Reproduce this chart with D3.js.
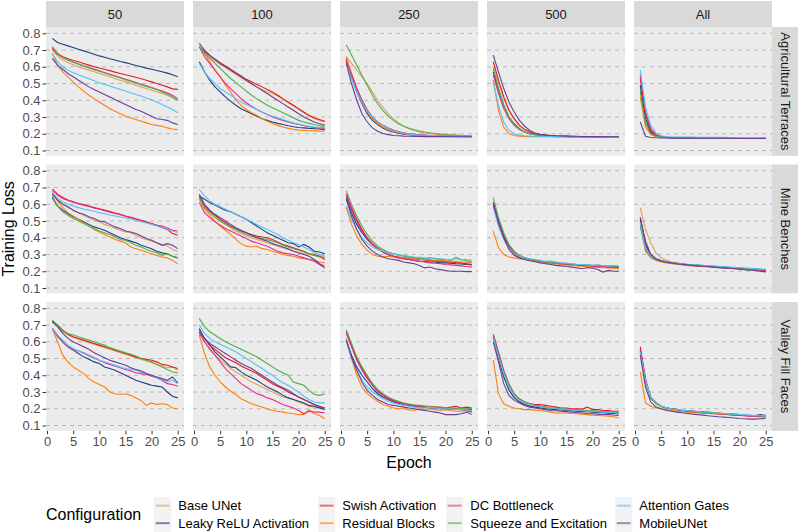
<!DOCTYPE html>
<html>
<head>
<meta charset="utf-8">
<script src="https://cdn.jsdelivr.net/npm/d3@7"></script>
<style>
  body { margin: 0; background: #fff; }
  svg { display: block; font-family: "Liberation Sans", Arial, sans-serif; }
</style>
</head>
<body>
<div id="chart"></div>
<script>
// data
const epochs = [1,2,3,4,5,6,7,8,9,10,11,12,13,14,15,16,17,18,19,20,21,22,23,24,25];
const configs = ["Base UNet", "Leaky ReLU Activation", "Swish Activation", "Residual Blocks",
                 "DC Bottleneck", "Squeeze and Excitation", "Attention Gates", "MobileUNet"];
const sizes = ["50", "100", "250", "500", "All"];
const features = ["Agricultural Terraces", "Mine Benches", "Valley Fill Faces"];
const yTicks = [0.1, 0.2, 0.3, 0.4, 0.5, 0.6, 0.7, 0.8];
const xTicks = [0, 5, 10, 15, 20, 25];

// one array per panel, series in the order of configs
const lossAT50 = [
  [.70,.665,.64,.625,.612,.60,.59,.58,.57,.56,.55,.54,.53,.52,.51,.50,.49,.48,.47,.46,.45,.44,.43,.415,.40],
  [.77,.745,.735,.725,.715,.705,.695,.685,.675,.665,.657,.648,.64,.632,.625,.617,.608,.60,.592,.585,.578,.57,.562,.553,.54],
  [.71,.68,.66,.648,.638,.63,.62,.61,.60,.593,.585,.577,.568,.56,.552,.545,.537,.528,.52,.51,.50,.49,.48,.468,.465],
  [.68,.61,.57,.54,.51,.48,.455,.43,.41,.39,.37,.35,.335,.32,.305,.295,.285,.275,.265,.255,.25,.245,.235,.228,.225],
  [.71,.675,.655,.64,.628,.617,.606,.596,.586,.576,.566,.556,.546,.536,.526,.516,.506,.496,.486,.476,.466,.455,.443,.43,.41],
  [.72,.68,.655,.64,.627,.615,.604,.593,.583,.573,.563,.553,.543,.533,.523,.513,.503,.493,.483,.473,.463,.45,.437,.42,.40],
  [.68,.63,.60,.58,.565,.552,.54,.528,.516,.505,.495,.485,.475,.465,.455,.445,.435,.425,.414,.403,.39,.375,.36,.345,.325],
  [.65,.61,.585,.56,.54,.52,.50,.48,.465,.45,.435,.42,.405,.39,.375,.36,.345,.335,.32,.305,.29,.285,.28,.265,.255]
];
const lossAT100 = [
  [.72,.68,.655,.635,.615,.595,.575,.555,.535,.515,.495,.48,.465,.45,.44,.425,.405,.385,.365,.345,.325,.305,.29,.28,.27],
  [.63,.57,.52,.48,.45,.42,.395,.37,.35,.335,.32,.305,.29,.28,.27,.262,.255,.248,.242,.237,.235,.232,.23,.228,.225],
  [.72,.69,.665,.645,.625,.605,.585,.565,.545,.525,.51,.495,.48,.465,.45,.43,.41,.39,.37,.35,.33,.31,.295,.285,.275],
  [.72,.68,.63,.58,.54,.49,.45,.40,.37,.345,.325,.31,.29,.275,.262,.25,.24,.232,.226,.222,.22,.218,.217,.216,.215],
  [.72,.66,.62,.58,.54,.50,.47,.44,.41,.385,.365,.345,.33,.315,.30,.29,.28,.27,.262,.255,.248,.242,.238,.235,.232],
  [.72,.68,.65,.62,.59,.56,.53,.505,.48,.455,.43,.41,.39,.37,.355,.34,.325,.31,.295,.28,.27,.262,.255,.248,.24],
  [.62,.57,.53,.50,.47,.45,.43,.41,.39,.375,.36,.345,.33,.315,.305,.295,.285,.275,.265,.258,.25,.245,.24,.237,.235],
  [.74,.70,.67,.645,.62,.60,.58,.56,.54,.52,.50,.48,.46,.44,.42,.40,.38,.36,.34,.32,.30,.285,.27,.26,.25]
];
const lossAT250 = [
  [.66,.62,.58,.54,.50,.45,.40,.36,.32,.29,.265,.245,.23,.22,.21,.205,.2,.197,.195,.193,.191,.19,.189,.188,.187],
  [.64,.54,.45,.38,.32,.28,.255,.235,.22,.21,.203,.198,.195,.192,.19,.189,.188,.187,.186,.186,.185,.185,.184,.184,.184],
  [.65,.56,.47,.40,.34,.30,.27,.25,.235,.22,.212,.205,.2,.197,.194,.192,.19,.189,.188,.187,.186,.185,.185,.184,.184],
  [.66,.55,.46,.39,.33,.29,.26,.24,.225,.215,.207,.2,.196,.193,.19,.188,.186,.185,.184,.183,.182,.182,.181,.181,.18],
  [.63,.55,.47,.40,.345,.30,.27,.25,.235,.222,.212,.205,.2,.196,.193,.19,.189,.188,.187,.186,.186,.185,.185,.184,.184],
  [.73,.67,.61,.55,.49,.43,.38,.34,.305,.28,.26,.245,.233,.224,.217,.211,.206,.202,.199,.196,.194,.192,.19,.189,.188],
  [.62,.53,.45,.39,.34,.30,.27,.25,.233,.22,.21,.203,.198,.195,.193,.191,.19,.189,.188,.188,.187,.187,.186,.186,.186],
  [.62,.50,.40,.32,.27,.235,.215,.202,.195,.19,.188,.186,.185,.184,.184,.183,.183,.183,.183,.182,.182,.182,.182,.182,.182]
];
const lossAT500 = [
  [.60,.50,.41,.34,.29,.25,.225,.21,.2,.195,.192,.19,.188,.187,.186,.185,.184,.184,.183,.183,.182,.182,.182,.182,.181],
  [.57,.46,.37,.30,.26,.23,.21,.2,.194,.19,.188,.186,.185,.184,.184,.183,.183,.183,.182,.182,.182,.182,.182,.181,.181],
  [.63,.52,.42,.34,.29,.25,.225,.21,.2,.195,.192,.19,.188,.187,.186,.185,.184,.184,.183,.183,.182,.182,.182,.182,.181],
  [.52,.34,.24,.2,.19,.186,.184,.183,.183,.182,.182,.182,.181,.181,.181,.181,.18,.18,.18,.18,.18,.18,.18,.18,.18],
  [.55,.44,.35,.29,.25,.225,.21,.2,.194,.19,.188,.186,.185,.184,.184,.183,.183,.183,.182,.182,.182,.182,.182,.181,.181],
  [.59,.47,.37,.30,.255,.23,.21,.2,.195,.19,.188,.186,.185,.184,.184,.183,.183,.183,.182,.182,.182,.182,.182,.181,.181],
  [.51,.37,.27,.22,.2,.192,.188,.186,.185,.184,.184,.183,.183,.183,.182,.182,.182,.182,.182,.181,.181,.181,.181,.181,.181],
  [.67,.57,.47,.39,.33,.28,.245,.22,.205,.197,.192,.19,.188,.187,.186,.185,.185,.184,.184,.183,.183,.183,.182,.182,.182]
];
const lossATAll = [
  [.47,.27,.20,.185,.18,.178,.177,.177,.176,.176,.176,.176,.176,.175,.175,.175,.175,.175,.175,.175,.175,.175,.175,.175,.175],
  [.49,.29,.21,.19,.182,.179,.178,.177,.177,.176,.176,.176,.176,.176,.175,.175,.175,.175,.175,.175,.175,.175,.175,.175,.175],
  [.53,.32,.22,.19,.182,.179,.178,.177,.177,.176,.176,.176,.176,.176,.176,.175,.175,.175,.175,.175,.175,.175,.175,.175,.175],
  [.42,.24,.195,.183,.179,.177,.176,.176,.175,.175,.175,.175,.175,.175,.175,.175,.175,.174,.174,.174,.174,.174,.174,.174,.174],
  [.55,.33,.23,.195,.184,.18,.178,.177,.177,.176,.176,.176,.176,.176,.176,.175,.175,.175,.175,.175,.175,.175,.175,.175,.175],
  [.45,.26,.20,.186,.18,.178,.177,.176,.176,.176,.176,.175,.175,.175,.175,.175,.175,.175,.175,.175,.175,.175,.175,.175,.175],
  [.58,.36,.25,.205,.188,.183,.181,.18,.18,.18,.18,.179,.179,.179,.179,.179,.179,.178,.178,.178,.178,.178,.178,.178,.178],
  [.27,.185,.178,.176,.175,.175,.174,.174,.174,.174,.174,.173,.173,.173,.173,.173,.173,.173,.173,.172,.172,.172,.172,.172,.172]
];
const lossMB50 = [
  [.67,.63,.60,.58,.565,.55,.535,.52,.505,.495,.48,.47,.455,.445,.435,.43,.415,.40,.39,.38,.37,.36,.35,.33,.32],
  [.64,.59,.565,.545,.525,.51,.495,.48,.465,.455,.445,.43,.415,.40,.39,.38,.37,.355,.345,.335,.32,.31,.305,.29,.28],
  [.69,.66,.64,.625,.615,.605,.598,.59,.58,.573,.565,.556,.548,.54,.53,.522,.513,.505,.495,.485,.475,.462,.45,.425,.415],
  [.68,.62,.58,.55,.53,.51,.49,.47,.45,.435,.42,.405,.39,.38,.37,.345,.335,.325,.315,.305,.295,.285,.28,.265,.245],
  [.69,.655,.635,.622,.612,.603,.595,.587,.578,.57,.562,.553,.545,.537,.528,.52,.512,.502,.492,.483,.475,.47,.458,.445,.44],
  [.65,.59,.555,.535,.515,.50,.485,.47,.455,.44,.43,.42,.405,.39,.385,.37,.355,.345,.33,.32,.31,.295,.305,.29,.28],
  [.67,.635,.615,.60,.59,.58,.572,.565,.558,.55,.543,.536,.53,.524,.518,.512,.504,.496,.488,.48,.47,.46,.452,.44,.432],
  [.66,.625,.60,.585,.565,.55,.54,.525,.515,.50,.495,.48,.465,.455,.44,.435,.425,.41,.395,.385,.37,.355,.365,.355,.335]
];
const lossMB100 = [
  [.64,.58,.55,.52,.50,.48,.46,.44,.425,.41,.40,.39,.38,.37,.36,.35,.34,.33,.32,.31,.305,.30,.295,.29,.285],
  [.65,.63,.61,.595,.58,.565,.555,.54,.525,.51,.49,.47,.45,.43,.415,.40,.385,.37,.365,.345,.36,.345,.32,.315,.305],
  [.65,.59,.56,.535,.51,.49,.47,.455,.44,.43,.42,.41,.405,.40,.39,.375,.36,.35,.34,.33,.32,.305,.30,.29,.27],
  [.63,.57,.535,.50,.47,.445,.42,.39,.365,.35,.345,.35,.335,.33,.32,.31,.30,.295,.29,.28,.275,.27,.265,.255,.25],
  [.61,.55,.52,.495,.475,.455,.44,.425,.41,.395,.38,.37,.36,.35,.335,.32,.31,.305,.30,.29,.28,.27,.26,.24,.22],
  [.64,.58,.55,.525,.50,.48,.465,.45,.435,.42,.41,.40,.395,.39,.38,.37,.355,.345,.335,.325,.315,.305,.295,.285,.28],
  [.69,.65,.62,.60,.585,.57,.555,.54,.525,.51,.495,.48,.465,.45,.435,.42,.40,.385,.37,.36,.345,.33,.31,.30,.29],
  [.66,.60,.565,.54,.52,.50,.48,.46,.445,.43,.415,.40,.39,.38,.365,.355,.345,.335,.32,.31,.30,.29,.27,.245,.23]
];
const lossMB250 = [
  [.65,.57,.50,.44,.40,.37,.345,.325,.31,.30,.295,.29,.285,.28,.275,.27,.265,.26,.255,.255,.25,.25,.245,.245,.24],
  [.64,.55,.48,.43,.39,.36,.335,.315,.30,.29,.28,.275,.27,.265,.26,.258,.255,.255,.25,.25,.248,.245,.243,.24,.238],
  [.66,.58,.51,.45,.40,.36,.335,.315,.30,.29,.285,.28,.278,.275,.27,.268,.265,.262,.26,.258,.255,.252,.25,.245,.24],
  [.58,.48,.41,.36,.325,.30,.29,.285,.29,.285,.283,.28,.28,.275,.273,.27,.268,.265,.265,.262,.26,.258,.255,.252,.25],
  [.66,.57,.50,.44,.40,.36,.335,.315,.30,.29,.28,.275,.27,.265,.26,.255,.25,.248,.245,.24,.238,.235,.232,.228,.225],
  [.68,.60,.53,.47,.42,.38,.35,.33,.315,.305,.30,.29,.285,.28,.28,.275,.28,.275,.27,.27,.265,.283,.27,.262,.255],
  [.59,.51,.45,.40,.37,.345,.33,.32,.31,.303,.298,.295,.29,.285,.283,.28,.278,.278,.275,.272,.27,.275,.268,.27,.265],
  [.63,.53,.45,.39,.35,.32,.30,.285,.275,.27,.265,.255,.25,.245,.235,.22,.225,.215,.21,.205,.20,.20,.20,.198,.198]
];
const lossMB500 = [
  [.60,.49,.40,.34,.30,.285,.275,.27,.265,.26,.255,.25,.248,.245,.242,.24,.238,.235,.232,.23,.24,.228,.225,.23,.225],
  [.61,.50,.41,.35,.31,.29,.28,.27,.265,.258,.253,.25,.246,.244,.24,.238,.236,.234,.232,.23,.228,.226,.225,.232,.228],
  [.60,.50,.41,.35,.31,.29,.28,.272,.266,.26,.255,.252,.248,.245,.248,.242,.24,.236,.235,.232,.23,.228,.226,.224,.222],
  [.44,.34,.30,.285,.28,.275,.27,.265,.26,.255,.25,.247,.244,.24,.237,.235,.232,.23,.228,.225,.223,.222,.22,.218,.216],
  [.59,.48,.40,.34,.305,.29,.28,.272,.266,.26,.256,.252,.25,.247,.244,.242,.24,.238,.235,.233,.23,.228,.226,.225,.222],
  [.64,.52,.43,.36,.32,.295,.28,.272,.266,.26,.256,.252,.25,.248,.245,.243,.24,.24,.238,.236,.235,.233,.232,.23,.23],
  [.58,.47,.39,.34,.305,.29,.28,.275,.27,.265,.26,.262,.255,.25,.248,.245,.242,.24,.238,.235,.238,.233,.232,.235,.23],
  [.61,.49,.40,.33,.295,.28,.27,.263,.257,.25,.245,.24,.235,.232,.228,.225,.22,.215,.222,.218,.21,.195,.205,.20,.20]
];
const lossMBAll = [
  [.58,.45,.37,.31,.28,.265,.255,.25,.245,.242,.24,.237,.235,.232,.23,.228,.225,.222,.22,.218,.215,.215,.212,.21,.208],
  [.52,.36,.29,.27,.26,.255,.25,.246,.242,.24,.237,.234,.232,.23,.227,.225,.222,.22,.218,.215,.213,.212,.21,.207,.205],
  [.51,.38,.30,.275,.262,.255,.25,.246,.243,.24,.237,.235,.232,.23,.228,.226,.224,.222,.22,.218,.216,.214,.212,.21,.21],
  [.48,.32,.28,.265,.255,.25,.245,.242,.238,.235,.232,.23,.228,.226,.224,.222,.22,.218,.215,.212,.21,.207,.205,.20,.195],
  [.50,.35,.29,.27,.26,.253,.248,.244,.24,.237,.234,.232,.23,.228,.226,.224,.222,.22,.218,.216,.214,.212,.21,.208,.205],
  [.47,.33,.285,.27,.26,.255,.25,.247,.244,.24,.238,.236,.234,.232,.23,.228,.226,.224,.222,.22,.218,.216,.214,.212,.21],
  [.49,.34,.29,.275,.265,.258,.252,.248,.245,.242,.24,.238,.235,.233,.231,.229,.227,.225,.223,.221,.219,.217,.215,.213,.212],
  [.52,.37,.30,.275,.262,.255,.25,.245,.242,.238,.235,.232,.23,.228,.225,.222,.22,.218,.215,.213,.21,.208,.205,.20,.198]
];
const lossVF50 = [
  [.72,.69,.66,.64,.625,.615,.605,.595,.585,.575,.565,.555,.545,.535,.525,.515,.505,.495,.485,.475,.465,.455,.445,.45,.43],
  [.68,.64,.60,.57,.55,.53,.51,.495,.48,.47,.45,.44,.43,.415,.40,.385,.37,.36,.35,.34,.335,.33,.30,.275,.265],
  [.72,.70,.67,.645,.63,.62,.61,.60,.59,.58,.57,.56,.55,.54,.53,.52,.51,.50,.495,.49,.48,.465,.46,.45,.44],
  [.68,.60,.52,.48,.45,.43,.41,.38,.36,.345,.33,.30,.29,.285,.29,.28,.265,.25,.22,.235,.225,.23,.225,.205,.20],
  [.68,.63,.60,.57,.555,.545,.535,.52,.505,.49,.475,.465,.455,.445,.435,.425,.415,.41,.405,.395,.385,.37,.35,.345,.335],
  [.73,.70,.665,.65,.64,.63,.62,.61,.60,.59,.58,.565,.555,.545,.535,.525,.515,.50,.49,.48,.465,.45,.435,.42,.415],
  [.68,.64,.61,.58,.56,.545,.53,.515,.50,.49,.48,.47,.46,.45,.44,.435,.43,.42,.41,.40,.385,.375,.36,.37,.35],
  [.72,.69,.65,.62,.60,.585,.57,.555,.535,.52,.505,.49,.48,.47,.46,.445,.435,.425,.41,.40,.39,.38,.37,.39,.355]
];
const lossVF100 = [
  [.67,.60,.55,.52,.49,.465,.44,.42,.40,.38,.36,.345,.33,.315,.30,.285,.27,.265,.255,.24,.23,.215,.21,.205,.195],
  [.68,.62,.58,.54,.51,.48,.45,.445,.42,.40,.385,.37,.35,.33,.315,.30,.28,.265,.255,.245,.235,.22,.215,.205,.195],
  [.66,.62,.58,.555,.53,.505,.49,.475,.455,.44,.425,.41,.39,.37,.35,.335,.32,.30,.285,.27,.255,.24,.225,.215,.205],
  [.64,.53,.45,.40,.36,.33,.305,.285,.26,.245,.23,.22,.21,.20,.19,.185,.18,.175,.17,.165,.165,.195,.17,.16,.14],
  [.65,.60,.56,.52,.48,.44,.41,.38,.35,.33,.31,.29,.28,.265,.255,.24,.225,.215,.205,.19,.17,.185,.18,.18,.175],
  [.74,.69,.66,.64,.62,.60,.585,.57,.555,.54,.525,.51,.49,.47,.45,.43,.415,.40,.36,.35,.34,.31,.285,.28,.29],
  [.70,.65,.62,.60,.585,.57,.555,.54,.52,.50,.48,.46,.44,.42,.40,.375,.355,.34,.32,.30,.275,.255,.24,.235,.235],
  [.66,.62,.59,.57,.55,.53,.51,.49,.47,.455,.44,.42,.40,.38,.36,.34,.325,.31,.29,.27,.255,.24,.225,.21,.205]
];
const lossVF250 = [
  [.66,.58,.50,.44,.39,.35,.31,.285,.265,.25,.24,.23,.225,.22,.215,.21,.21,.205,.205,.20,.20,.20,.198,.198,.195],
  [.61,.52,.45,.40,.36,.32,.29,.27,.255,.24,.232,.225,.22,.215,.21,.21,.205,.205,.20,.20,.198,.198,.196,.195,.195],
  [.66,.58,.50,.44,.39,.35,.31,.285,.265,.25,.24,.23,.225,.22,.22,.215,.215,.21,.21,.205,.21,.215,.205,.21,.205],
  [.62,.50,.40,.33,.29,.265,.245,.225,.215,.205,.20,.20,.195,.19,.20,.195,.20,.195,.19,.195,.19,.185,.185,.19,.18],
  [.65,.57,.49,.43,.38,.34,.30,.28,.26,.245,.235,.228,.222,.218,.214,.21,.208,.205,.203,.20,.198,.196,.194,.19,.18],
  [.67,.59,.51,.45,.40,.35,.315,.29,.27,.255,.245,.235,.228,.222,.218,.215,.212,.21,.208,.206,.205,.204,.203,.202,.20],
  [.60,.50,.43,.37,.33,.30,.28,.26,.245,.235,.225,.22,.215,.21,.208,.205,.21,.205,.20,.20,.198,.196,.195,.195,.19],
  [.61,.51,.43,.36,.31,.28,.255,.24,.225,.22,.215,.21,.205,.20,.195,.19,.185,.18,.175,.165,.165,.165,.17,.18,.165]
];
const lossVF500 = [
  [.63,.51,.40,.32,.27,.245,.23,.22,.215,.21,.205,.20,.198,.195,.193,.19,.188,.186,.184,.182,.18,.178,.176,.174,.17],
  [.62,.50,.39,.31,.265,.24,.225,.215,.21,.205,.20,.198,.195,.193,.19,.188,.186,.184,.182,.18,.178,.176,.174,.172,.17],
  [.64,.53,.42,.34,.285,.255,.24,.23,.225,.225,.22,.215,.21,.205,.205,.20,.20,.198,.21,.195,.195,.19,.19,.185,.185],
  [.49,.29,.23,.215,.205,.20,.195,.195,.192,.19,.185,.18,.175,.175,.175,.172,.17,.168,.165,.162,.16,.158,.155,.152,.145],
  [.645,.54,.43,.35,.29,.26,.24,.23,.222,.215,.21,.205,.202,.20,.198,.195,.192,.19,.188,.186,.184,.182,.18,.178,.175],
  [.63,.52,.42,.34,.29,.255,.24,.228,.22,.215,.21,.205,.203,.20,.198,.196,.194,.192,.19,.188,.186,.184,.182,.18,.178],
  [.62,.51,.41,.33,.28,.25,.235,.225,.218,.212,.208,.205,.20,.198,.195,.193,.19,.188,.186,.184,.182,.18,.178,.176,.174],
  [.60,.48,.35,.28,.25,.235,.22,.21,.205,.20,.195,.19,.188,.185,.183,.18,.178,.175,.172,.17,.168,.166,.165,.163,.16]
];
const lossVFAll = [
  [.53,.36,.27,.235,.215,.205,.20,.195,.19,.187,.184,.181,.178,.175,.172,.17,.168,.166,.164,.162,.16,.158,.157,.156,.155],
  [.55,.37,.27,.235,.215,.205,.20,.195,.19,.186,.182,.179,.176,.174,.172,.17,.168,.166,.164,.162,.16,.158,.16,.165,.16],
  [.57,.38,.26,.235,.215,.205,.20,.195,.19,.188,.186,.184,.182,.18,.178,.175,.172,.17,.168,.165,.162,.16,.158,.156,.155],
  [.42,.235,.215,.205,.20,.195,.19,.185,.182,.18,.178,.176,.174,.172,.17,.168,.166,.164,.162,.16,.158,.156,.154,.152,.15],
  [.55,.37,.27,.235,.215,.205,.20,.195,.19,.186,.183,.18,.177,.175,.173,.17,.168,.165,.162,.16,.158,.156,.155,.153,.152],
  [.54,.36,.265,.23,.212,.203,.198,.193,.19,.187,.184,.181,.178,.176,.174,.172,.17,.168,.166,.164,.162,.16,.158,.157,.158],
  [.54,.37,.27,.235,.215,.206,.20,.196,.192,.19,.187,.184,.181,.178,.176,.174,.172,.17,.168,.166,.164,.162,.16,.158,.157],
  [.52,.33,.24,.21,.20,.19,.185,.18,.176,.172,.168,.165,.162,.158,.155,.152,.15,.148,.145,.142,.14,.138,.138,.14,.142]
];

const panels = [
  [lossAT50, lossAT100, lossAT250, lossAT500, lossATAll],
  [lossMB50, lossMB100, lossMB250, lossMB500, lossMBAll],
  [lossVF50, lossVF100, lossVF250, lossVF500, lossVFAll]
];

const colors = ["#DFA15A", "#1F3F7F", "#E41A1C", "#FF7F0E", "#E7298A", "#4DAF4A", "#4FC3F7", "#6A3D9A"];

// layout
const W = 800, H = 532;
const padL = 46, padT = 27, pw = 138, ph = 128.8, colStep = 147, rowStep = 137.5;
const stripH = 26, stripW = 26;

const svg = d3.select("#chart").append("svg")
    .attr("width", W)
    .attr("height", H);

const x = d3.scaleLinear().domain([-0.2, 26.2]).range([0, pw]);
const y = d3.scaleLinear().domain([0.0684, 0.8376]).range([ph, 0]);

const line = d3.line()
    .x((d, i) => x(epochs[i]))
    .y(d => y(d));

// top strips
sizes.forEach(function (s, c) {
    let g = svg.append("g").attr("transform", "translate(" + (padL + c * colStep) + "," + (padT - stripH) + ")");
    g.append("rect").attr("width", pw).attr("height", stripH).attr("fill", "#d9d9d9");
    g.append("text").attr("x", pw / 2).attr("y", stripH / 2 + 4.5)
        .attr("text-anchor", "middle").attr("font-size", 13).attr("fill", "#1a1a1a").text(s);
});

// right strips
features.forEach(function (f, r) {
    let g = svg.append("g").attr("transform", "translate(" + (padL + 4 * colStep + pw) + "," + (padT + r * rowStep) + ")");
    g.append("rect").attr("width", stripW).attr("height", ph).attr("fill", "#d9d9d9");
    g.append("text")
        .attr("transform", "translate(" + (stripW / 2 - 4.5) + "," + (ph / 2) + ") rotate(90)")
        .attr("text-anchor", "middle").attr("font-size", 13).attr("fill", "#1a1a1a").text(f);
});

panels.forEach(function (row, r) {
    row.forEach(function (series, c) {
        let g = svg.append("g")
            .attr("transform", "translate(" + (padL + c * colStep) + "," + (padT + r * rowStep) + ")");

        g.append("rect").attr("width", pw).attr("height", ph).attr("fill", "#ebebeb");

        g.selectAll("line.grid")
            .data(yTicks)
            .join("line")
            .attr("class", "grid")
            .attr("x1", 0).attr("x2", pw)
            .attr("y1", d => y(d)).attr("y2", d => y(d))
            .attr("stroke", "#b8b8b8")
            .attr("stroke-width", 1)
            .attr("stroke-dasharray", "4,4");

        g.selectAll("path.loss")
            .data(series)
            .join("path")
            .attr("class", "loss")
            .attr("d", d => line(d))
            .attr("fill", "none")
            .attr("stroke", (d, i) => colors[i])
            .attr("stroke-width", 1.1);

        if (c === 0) {
            let ax = g.append("g")
                .call(d3.axisLeft(y).tickValues(yTicks).tickSize(3.5).tickPadding(2).tickFormat(d3.format(".1f")));
            styleAxis(ax);
        }
        if (r === 2) {
            let ax = g.append("g").attr("transform", "translate(0," + ph + ")")
                .call(d3.axisBottom(x).tickValues(xTicks).tickSize(3.5).tickPadding(2));
            styleAxis(ax);
        }
    });
});

function styleAxis(ax) {
    ax.select(".domain").remove();
    ax.selectAll(".tick line").attr("stroke", "#333333").attr("stroke-width", 1);
    ax.selectAll(".tick text").attr("fill", "#4d4d4d").attr("font-size", 13)
        .attr("font-family", "Liberation Sans, Arial, sans-serif");
}

// axis titles
svg.append("text")
    .attr("transform", "translate(13.5," + (padT + (2 * rowStep + ph) / 2) + ") rotate(-90)")
    .attr("text-anchor", "middle").attr("font-size", 16).attr("fill", "#000").text("Training Loss");

svg.append("text")
    .attr("x", padL + (4 * colStep + pw) / 2).attr("y", 468)
    .attr("text-anchor", "middle").attr("font-size", 16).attr("fill", "#000").text("Epoch");

// legend
svg.append("text").attr("x", 46).attr("y", 520)
    .attr("font-size", 16).attr("fill", "#000").text("Configuration");

const legendX = [154, 318, 446, 615];
const legendY = [497, 514.5];
const keySize = 17.3;

let lg = svg.append("g").selectAll("g")
    .data(configs)
    .join("g")
    .attr("transform", (d, i) => "translate(" + legendX[Math.floor(i / 2)] + "," + legendY[i % 2] + ")");

lg.append("rect").attr("width", keySize).attr("height", keySize).attr("fill", "#f2f2f2");
lg.append("line")
    .attr("x1", 1.7).attr("x2", keySize - 1.7)
    .attr("y1", keySize / 2).attr("y2", keySize / 2)
    .attr("stroke", (d, i) => colors[i])
    .attr("stroke-opacity", 0.6)
    .attr("stroke-width", 2);
lg.append("text")
    .attr("x", keySize + 7).attr("y", keySize / 2 + 4.5)
    .attr("font-size", 13).attr("fill", "#000").text(d => d);
</script>
</body>
</html>
